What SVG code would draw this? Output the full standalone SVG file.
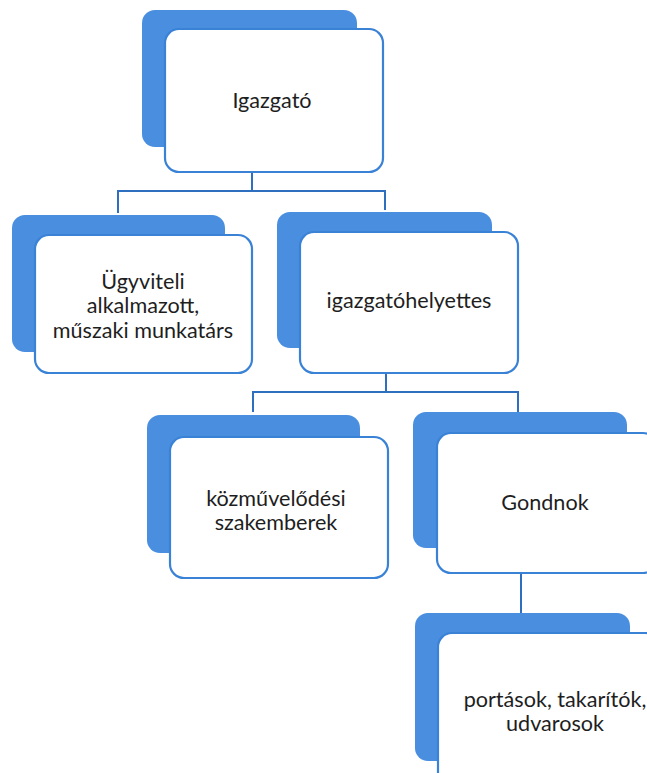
<svg xmlns="http://www.w3.org/2000/svg" width="647" height="773" viewBox="0 0 647 773">
<style>
.back{fill:#4a8ee0;}
.front{fill:#ffffff;stroke:#3a82d6;stroke-width:2.2;}
.conn{fill:none;stroke:#2f6fc0;stroke-width:2;}
text{font-family:Lato,"Open Sans","Liberation Sans",sans-serif;font-size:21.6px;fill:#1e1e1e;text-anchor:middle;}
</style>
<rect width="647" height="773" fill="#ffffff"/>
<g id="connectors">
<path class="conn" d="M252 172 V191 M118 213 V191 H385 V210"/>
<path class="conn" d="M386 373 V392 M253 412 V392 H518 V412"/>
<path class="conn" d="M521 573 V613"/>
</g>
<g id="node-igazgato">
<rect class="back" x="142" y="10" width="215" height="137" rx="13"/>
<rect class="front" x="165" y="29" width="218" height="143" rx="14"/>
<text x="272" y="108">Igazgató</text>
</g>
<g id="node-ugyviteli">
<rect class="back" x="12" y="215" width="213" height="137" rx="13"/>
<rect class="front" x="35" y="235" width="217" height="138" rx="14"/>
<text x="143" y="289">Ügyviteli</text>
<text x="143" y="313">alkalmazott,</text>
<text x="143" y="338">műszaki munkatárs</text>
</g>
<g id="node-igazgatohelyettes">
<rect class="back" x="277" y="212" width="215" height="136" rx="13"/>
<rect class="front" x="300" y="232" width="218" height="141" rx="14"/>
<text x="409" y="308">igazgatóhelyettes</text>
</g>
<g id="node-kozmuvelodesi">
<rect class="back" x="147" y="415" width="213" height="138" rx="13"/>
<rect class="front" x="170" y="437" width="218" height="141" rx="14"/>
<text x="276" y="506">közművelődési</text>
<text x="276" y="530">szakemberek</text>
</g>
<g id="node-gondnok">
<rect class="back" x="413" y="412" width="214" height="136" rx="13"/>
<rect class="front" x="437" y="433" width="220" height="140" rx="14"/>
<text x="545" y="510">Gondnok</text>
</g>
<g id="node-portasok">
<rect class="back" x="415" y="613" width="215" height="148" rx="13"/>
<rect class="front" x="438" y="633" width="222" height="160" rx="14"/>
<text x="555" y="707">portások, takarítók,</text>
<text x="555" y="731">udvarosok</text>
</g>
</svg>
